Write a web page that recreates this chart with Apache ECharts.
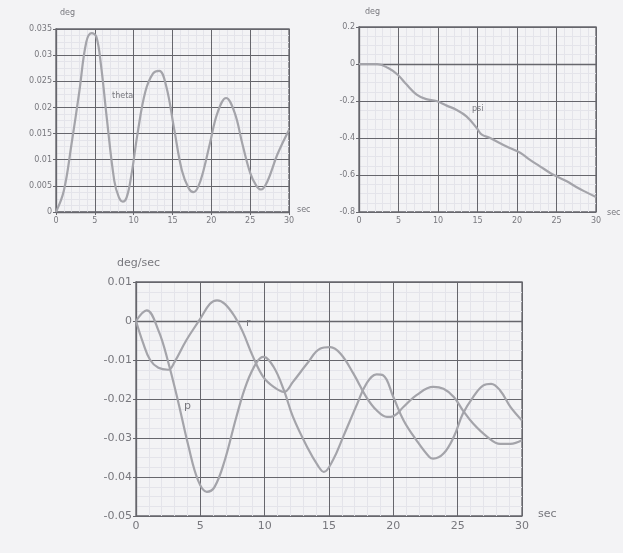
<!DOCTYPE html>
<html><head><meta charset="utf-8">
<script src="https://cdn.jsdelivr.net/npm/echarts@6/dist/echarts.min.js"></script>
<style>html,body{margin:0;padding:0;background:#f3f3f5}#c{width:623px;height:553px}</style>
</head><body><div id="c"></div>
<script>
// Top-left: theta (deg) vs time (sec)
const thetaData = [[0,0],[1,0.004],[2,0.013],[3,0.023],[3.9,0.0325],[4.6,0.0342],[5.2,0.0335],[5.8,0.028],[6.5,0.0185],[7.5,0.006],[8.1,0.0028],[8.6,0.002],[9.1,0.0028],[9.7,0.007],[10.5,0.015],[11.5,0.023],[12.5,0.0265],[13.3,0.027],[14.2,0.024],[15.2,0.016],[16.2,0.008],[17.1,0.0045],[17.7,0.0038],[18.3,0.0048],[19,0.008],[19.8,0.013],[20.8,0.019],[21.9,0.0218],[23,0.019],[24,0.013],[25,0.0075],[25.8,0.005],[26.4,0.0043],[27.2,0.0058],[28.5,0.011],[30,0.0157]];
// Top-right: psi (deg) vs time (sec)
const psiData = [[0,0],[2.3,0],[3.7,-0.022],[4.9,-0.058],[6.0,-0.11],[7.3,-0.165],[8.5,-0.19],[9.8,-0.2],[11.1,-0.225],[12.3,-0.247],[13.6,-0.283],[14.9,-0.346],[15.5,-0.38],[16.6,-0.4],[17.8,-0.427],[19.1,-0.454],[20.4,-0.48],[21.6,-0.517],[22.9,-0.553],[24.2,-0.589],[25,-0.607],[26.3,-0.634],[27.5,-0.665],[28.8,-0.694],[30,-0.719]];
// Bottom: p and r (deg/sec) vs time (sec)
const pData = [[0,0],[0.83,0.0027],[1.74,-0.0024],[2.5,-0.0105],[3.3,-0.021],[4.07,-0.032],[4.84,-0.041],[5.5,-0.0438],[6.1,-0.0426],[6.9,-0.0357],[7.8,-0.0246],[8.6,-0.016],[9.4,-0.0105],[9.9,-0.0092],[10.7,-0.0118],[11.5,-0.0178],[12.2,-0.0246],[13.3,-0.0323],[14.2,-0.0374],[14.6,-0.0387],[15.3,-0.0357],[16.1,-0.0297],[17.2,-0.0212],[17.9,-0.0161],[18.7,-0.0137],[19.2,-0.0139],[20,-0.0195],[20.8,-0.0255],[21.8,-0.0306],[22.8,-0.0349],[23.1,-0.0353],[23.9,-0.034],[24.7,-0.0297],[25.4,-0.0238],[26.2,-0.0195],[27,-0.0165],[27.6,-0.0161],[28.3,-0.0178],[29.1,-0.022],[30,-0.0255]];
const rData = [[0,0],[0.57,-0.0058],[1.1,-0.010],[1.74,-0.012],[2.5,-0.0125],[3.0,-0.0105],[3.9,-0.005],[5.0,0.0006],[5.75,0.0044],[6.3,0.0053],[6.9,0.0044],[7.7,0.001],[8.3,-0.0028],[9.1,-0.0092],[9.9,-0.0144],[10.7,-0.0169],[11.5,-0.0182],[12.2,-0.0156],[13.3,-0.0109],[14.3,-0.0071],[15.1,-0.0067],[15.9,-0.0084],[16.9,-0.0135],[17.9,-0.0195],[18.7,-0.0229],[19.5,-0.0246],[20,-0.0244],[20.8,-0.022],[21.8,-0.019],[23.1,-0.0169],[23.9,-0.0174],[24.7,-0.0195],[25.4,-0.0229],[26.2,-0.0263],[27.3,-0.0297],[28.3,-0.0315],[29.1,-0.0315],[30,-0.0306]];

const GRID = '#66666c', TXT = '#77777d', CURVE = '#a4a4aa', MINOR = '#e4e4ea';
function xAx(gi, fs){
  return {type:'value', gridIndex:gi, min:0, max:30, interval:5, z:3,
    axisLine:{show:true, lineStyle:{color:GRID,width:1.3}}, axisTick:{show:true,length:3,lineStyle:{color:GRID}},
    axisLabel:{color:TXT, fontSize:fs, fontFamily:'DejaVu Sans', margin:5},
    splitLine:{show:true, lineStyle:{color:GRID,width:1}}};
}
function yAx(gi, min, max, iv, fs, fmt){
  return {type:'value', gridIndex:gi, min:min, max:max, interval:iv, z:3,
    axisLine:{show:true, onZero:false, lineStyle:{color:GRID,width:1.3}}, axisTick:{show:true,length:3,lineStyle:{color:GRID}},
    axisLabel:{color:TXT, fontSize:fs, fontFamily:'DejaVu Sans', margin:4, formatter:fmt},
    splitLine:{show:true, lineStyle:{color:GRID,width:1}}};
}
// faint minor grid drawn underneath the main grid
function minorAx(gi, min, max, iv){
  return {type:'value', gridIndex:gi, min:min, max:max, interval:iv, z:0,
    axisLine:{show:false}, axisTick:{show:false}, axisLabel:{show:false},
    splitLine:{show:true, lineStyle:{color:MINOR,width:1}}};
}
const line = (xi, data) => ({type:'line', xAxisIndex:xi, yAxisIndex:xi, data:data, smooth:0.4, symbol:'none',
  lineStyle:{color:CURVE, width:2.2}, z:5});

const chart = echarts.init(document.getElementById('c'), null, {renderer:'canvas'});
const txt = (x,y,t,fs,align) => ({type:'text', left:x, top:y, z:10, style:{text:t, fill:TXT, font: fs+'px DejaVu Sans', textAlign:align||'left'}});
chart.setOption({
  backgroundColor:'#f3f3f5',
  animation:false,
  grid:[
    {left:56, top:29, width:233, height:183, show:true, borderColor:GRID, borderWidth:1.3},
    {left:359, top:27, width:237, height:185, show:true, borderColor:GRID, borderWidth:1.3},
    {left:136, top:282, width:386, height:234, show:true, borderColor:GRID, borderWidth:1.3}
  ],
  xAxis:[xAx(0,8), xAx(1,8), xAx(2,11), minorAx(0,0,30,1), minorAx(1,0,30,1), minorAx(2,0,30,1)],
  yAxis:[
    yAx(0, 0, 0.035, 0.005, 8, v => v===0?'0':String(+v.toFixed(3))),
    yAx(1, -0.8, 0.2, 0.2, 8, v => v===0?'0':String(+v.toFixed(1))),
    yAx(2, -0.05, 0.01, 0.01, 11, v => v===0?'0':String(+v.toFixed(2))),
    minorAx(0, 0, 0.035, 0.00125), minorAx(1, -0.8, 0.2, 0.05), minorAx(2, -0.05, 0.01, 0.0025)
  ],
  series:[line(0, thetaData), line(1, psiData), line(2, pData), line(2, rData)],
  graphic:[
    txt(60,9,'deg',8), txt(297,206,'sec',8),
    txt(112,92,'theta',8),
    txt(365,8,'deg',8), txt(607,209,'sec',8),
    txt(472,105,'psi',8),
    txt(117,258,'deg/sec',11), txt(538,509,'sec',11),
    txt(246,318,'r',11), txt(184,401,'p',11)
  ]
});
</script></body></html>
